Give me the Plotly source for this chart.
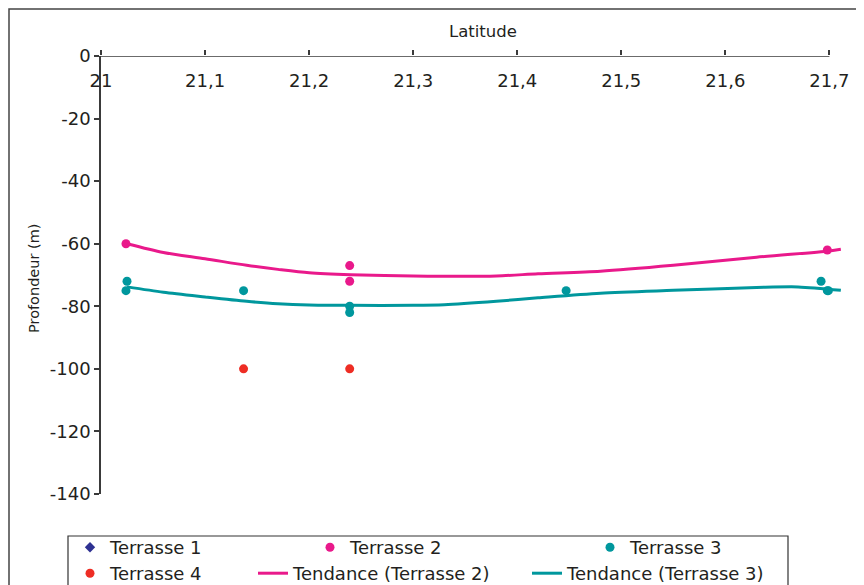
import plotly.graph_objects as go

# ---------------- data ----------------
t1_lat = [None]
t1_depth = [None]

t2_lat = [21.024, 21.239, 21.239, 21.698]
t2_depth = [-60, -67, -72, -62]

t3_lat = [21.025, 21.024, 21.137, 21.239, 21.239, 21.447, 21.692, 21.698, 21.699]
t3_depth = [-72, -75, -75, -80, -82, -75, -72, -75, -75]

t4_lat = [21.137, 21.239]
t4_depth = [-100, -100]

trend2_lat = [21.025, 21.06, 21.10, 21.14, 21.17, 21.20, 21.24, 21.30, 21.38, 21.42, 21.48, 21.55, 21.63, 21.70, 21.711]
trend2_depth = [-60.0, -62.8, -64.8, -66.9, -68.2, -69.3, -69.9, -70.3, -70.3, -69.6, -68.8, -66.9, -64.3, -62.3, -61.8]

trend3_lat = [21.025, 21.06, 21.10, 21.14, 21.17, 21.20, 21.24, 21.30, 21.33, 21.38, 21.42, 21.48, 21.55, 21.63, 21.67, 21.711]
trend3_depth = [-73.8, -75.5, -77.0, -78.4, -79.2, -79.6, -79.7, -79.7, -79.5, -78.4, -77.3, -75.8, -74.9, -74.0, -73.8, -74.9]

x_tickvals = [21.0, 21.1, 21.2, 21.3, 21.4, 21.5, 21.6, 21.7]
x_ticktext = ["21", "21,1", "21,2", "21,3", "21,4", "21,5", "21,6", "21,7"]
y_tickvals = [0, -20, -40, -60, -80, -100, -120, -140]
y_ticktext = ["0", "-20", "-40", "-60", "-80", "-100", "-120", "-140"]

# ---------------- layout helpers ----------------
# the page places the figure 8px from the top-left corner; coordinates below are figure pixels
W, H = 864, 600
PL, PR, PT, PB = 93, 837, 48, 486   # plot area in figure pixels


def px(xp):
    return xp / W


def py(yp):
    return (H - yp) / H


FONT = "DejaVu Sans"
TXT = "#231f20"
PINK = "#e9198b"
TEAL = "#00979d"
RED = "#ee2d24"
NAVY = "#2e3192"
AX = "#3a3a3a"

fig = go.Figure()

fig.add_trace(go.Scatter(x=t1_lat, y=t1_depth, mode="markers", name="Terrasse 1",
                         marker=dict(symbol="diamond", size=8, color=NAVY), legend="legend"))
fig.add_trace(go.Scatter(x=t2_lat, y=t2_depth, mode="markers", name="Terrasse 2",
                         marker=dict(size=9, color=PINK), legend="legend2"))
fig.add_trace(go.Scatter(x=t3_lat, y=t3_depth, mode="markers", name="Terrasse 3",
                         marker=dict(size=9, color=TEAL), legend="legend3"))
fig.add_trace(go.Scatter(x=t4_lat, y=t4_depth, mode="markers", name="Terrasse 4",
                         marker=dict(size=9, color=RED), legend="legend4", xaxis="x2"))
fig.add_trace(go.Scatter(x=trend2_lat, y=trend2_depth, mode="lines", name="Tendance (Terrasse 2)",
                         line=dict(color=PINK, width=3, shape="spline", smoothing=0.8), legend="legend5"))
fig.add_trace(go.Scatter(x=trend3_lat, y=trend3_depth, mode="lines", name="Tendance (Terrasse 3)",
                         line=dict(color=TEAL, width=3, shape="spline", smoothing=0.8), legend="legend6"))

legfont = dict(family=FONT, size=18, color=TXT)


def leg(xp, yp):
    return dict(x=px(xp), y=py(yp), xanchor="left", yanchor="top", bgcolor="rgba(0,0,0,0)",
                font=legfont, itemsizing="trace", borderwidth=0)


row1, row2 = 521, 547
layout_legends = dict(
    legend=leg(62, row1),
    legend2=leg(302, row1),
    legend3=leg(582, row1),
    legend4=leg(62, row2),
    legend5=leg(245, row2),
    legend6=leg(519, row2),
)

xrange = [21.0, 21.715]
fig.update_layout(
    width=W, height=H,
    margin=dict(l=0, r=0, t=0, b=0, pad=0),
    paper_bgcolor="white", plot_bgcolor="white",
    font=dict(family=FONT, size=18, color=TXT),
    showlegend=True,
    **layout_legends,
    xaxis=dict(
        domain=[px(PL), px(PR)], range=xrange, side="top", anchor="y",
        showline=False, showgrid=False, zeroline=False, automargin=False,
        ticks="outside", ticklen=5, tickwidth=1.5, tickcolor=AX,
        tickvals=x_tickvals, showticklabels=False,
    ),
    xaxis2=dict(
        domain=[px(PL), px(PR)], range=xrange, matches="x", overlaying="x",
        anchor="free", position=py(PT + 12), side="bottom",
        showline=False, showgrid=False, zeroline=False, automargin=False,
        ticks="", tickvals=x_tickvals, ticktext=x_ticktext,
        tickfont=dict(family=FONT, size=18, color=TXT),
    ),
    yaxis=dict(
        domain=[py(PB), py(PT)], range=[-140, 0], anchor="x",
        showline=True, linecolor=AX, linewidth=1.5,
        showgrid=False, zeroline=False, automargin=False,
        ticks="outside", ticklen=5, tickwidth=1.5, tickcolor=AX,
        tickvals=y_tickvals, ticktext=y_ticktext,
        tickfont=dict(family=FONT, size=18, color=TXT),
    ),
    shapes=[
        dict(type="line", xref="x", yref="y", x0=21.0, x1=21.7, y0=0, y1=0,
             line=dict(color=AX, width=1.5)),
        dict(type="rect", xref="paper", yref="paper", x0=px(1), x1=px(900), y0=py(640), y1=py(1),
             line=dict(color="#444", width=1.5), fillcolor="rgba(0,0,0,0)", layer="below"),
        dict(type="rect", xref="paper", yref="paper", x0=px(60), x1=px(780), y0=py(640), y1=py(528),
             line=dict(color="#333", width=1.2), fillcolor="rgba(0,0,0,0)", layer="below"),
    ],
    annotations=[
        dict(text="Latitude", xref="paper", yref="paper", x=px(475), y=py(23),
             xanchor="center", yanchor="middle", showarrow=False,
             font=dict(family=FONT, size=16.5, color=TXT)),
        dict(text="Profondeur (m)", xref="paper", yref="paper", x=px(26), y=py(270),
             xanchor="center", yanchor="middle", showarrow=False, textangle=-90,
             font=dict(family=FONT, size=14.5, color=TXT)),
    ],
)

fig.write_html("out.html")
